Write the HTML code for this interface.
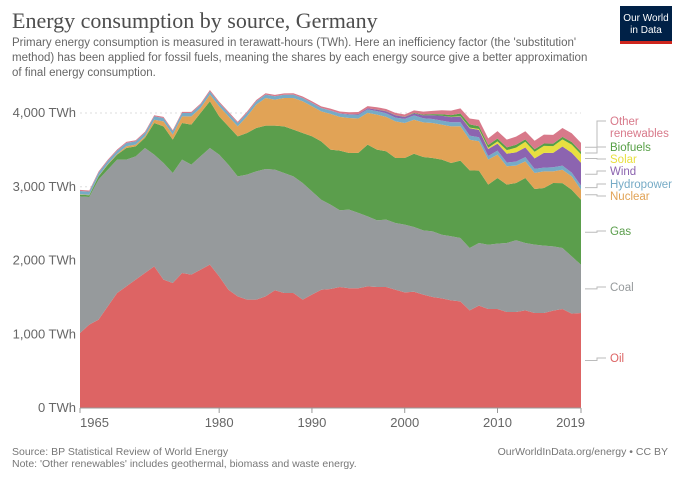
<!DOCTYPE html>
<html><head><meta charset="utf-8">
<style>
body{margin:0;background:#fff;font-family:"Liberation Sans",sans-serif;}
#wrap{position:relative;width:680px;height:480px;overflow:hidden;}
svg text{font-family:"Liberation Sans",sans-serif;}
</style></head>
<body>
<div id="wrap">
<svg id="chart" width="680" height="480">
<text x="12" y="28" font-family="Liberation Serif" font-size="22" fill="#4d4d4d" style="font-family:'Liberation Serif',serif">Energy consumption by source, Germany</text>
<g fill="#666" font-size="11.5">
<text x="12" y="46">Primary energy consumption is measured in terawatt-hours (TWh). Here an inefficiency factor (the 'substitution'</text>
<text x="12" y="61">method) has been applied for fossil fuels, meaning the shares by each energy source give a better approximation</text>
<text x="12" y="76">of final energy consumption.</text>
</g>
<g>
<rect x="620" y="6" width="52" height="38" fill="#002147"/>
<rect x="620" y="41" width="52" height="3" fill="#ce261e"/>
<text x="646" y="21" font-size="10" fill="#fff" text-anchor="middle">Our World</text>
<text x="646" y="33" font-size="10" fill="#fff" text-anchor="middle">in Data</text>
</g>
<g id="grid"></g>
<g id="areas"></g>
<g id="axes"></g>
<g id="legend"></g>
<text x="12" y="455" font-size="10.5" fill="#777">Source: BP Statistical Review of World Energy</text>
<text x="12" y="467" font-size="10.5" fill="#777">Note: 'Other renewables' includes geothermal, biomass and waste energy.</text>
<text x="668" y="455" font-size="10.5" fill="#777" text-anchor="end">OurWorldInData.org/energy • CC BY</text>
</svg>
</div>
<script>
const years=[];for(let y=1965;y<=2019;y++)years.push(y);
const oil=[1017,1130,1198,1379,1559,1650,1740,1831,1921,1740,1695,1831,1808,1876,1944,1785,1604,1514,1469,1469,1514,1596,1559,1559,1469,1537,1604,1614,1641,1623,1623,1650,1641,1641,1604,1568,1577,1537,1505,1487,1460,1446,1324,1388,1342,1342,1302,1302,1324,1288,1288,1320,1342,1279,1288];
const coal=[1853,1731,1898,1853,1808,1718,1672,1695,1514,1582,1492,1537,1492,1537,1582,1650,1695,1627,1695,1740,1727,1636,1627,1582,1582,1401,1220,1144,1040,1067,1022,949,904,913,904,918,877,872,890,863,868,859,845,850,872,886,936,972,913,927,913,872,827,777,655];
const gas=[23,23,45,68,68,158,136,136,429,497,452,497,542,588,633,520,520,542,565,588,588,597,633,633,678,746,791,746,809,768,814,972,958,927,881,904,994,994,994,1017,994,1049,1053,981,814,890,791,777,881,755,782,859,881,904,881];
const nuclear=[5,5,5,8,10,23,23,23,45,68,68,90,113,68,90,136,136,136,226,317,375,353,384,430,430,407,407,484,457,475,466,430,475,466,497,475,461,470,475,475,497,466,416,398,339,317,249,235,226,217,226,158,181,181,136];
const hydro=[45,45,45,45,45,45,45,45,45,45,45,45,45,45,45,45,45,45,45,45,45,45,45,45,45,45,45,45,45,45,48,48,48,50,52,55,58,55,55,55,55,55,55,55,50,55,50,55,58,55,50,55,55,50,55];
const wind=[0,0,0,0,0,0,0,0,0,0,0,0,0,0,0,0,0,0,0,0,0,0,0,0,0,1,1,2,4,7,12,15,20,25,30,25,28,40,50,65,70,78,100,100,95,95,120,125,130,142,200,195,260,270,310];
const solar=[0,0,0,0,0,0,0,0,0,0,0,0,0,0,0,0,0,0,0,0,0,0,0,0,0,0,0,0,0,0,0,0,0,0,0,0,0,0,0,1,3,5,8,11,16,30,48,65,78,90,95,92,97,110,115];
const biofuels=[0,0,0,0,0,0,0,0,0,0,0,0,0,0,0,0,0,0,0,0,0,0,0,0,0,0,0,0,0,0,1,1,2,3,4,5,6,10,15,20,25,35,45,38,38,40,38,38,33,35,33,33,33,35,35];
const other=[15,15,15,15,15,15,15,15,15,15,15,15,15,15,18,18,18,18,18,18,18,18,18,18,20,22,22,24,25,26,28,28,30,30,30,30,35,40,45,55,60,70,80,85,90,100,105,110,110,115,120,120,120,120,120];
const seriesNames=["Oil","Coal","Gas","Nuclear","Hydropower","Wind","Solar","Biofuels","Other renewables"];
const seriesData=[oil,coal,gas,nuclear,hydro,wind,solar,biofuels,other];
const colors=["#dd6464","#969a9c","#5b9e4c","#e1a356","#76abc6","#8c64b0","#e8df3f","#57a046","#d8798a"];
const yTicks=[0,1000,2000,3000,4000];
const yTickLabels=["0 TWh","1,000 TWh","2,000 TWh","3,000 TWh","4,000 TWh"];
const xTicks=[1965,1980,1990,2000,2010,2019];

const NS="http://www.w3.org/2000/svg";
const X0=80,X1=581,Y0=408,Y4=113;
const xs=y=>X0+(y-1965)*(X1-X0)/(2019-1965);
const ys=v=>Y0-v*(Y0-Y4)/4000;
function mk(tag,attrs,parent){const e=document.createElementNS(NS,tag);for(const k in attrs)e.setAttribute(k,attrs[k]);parent.appendChild(e);return e;}

const grid=document.getElementById('grid'),axes=document.getElementById('axes'),areas=document.getElementById('areas'),legend=document.getElementById('legend');
yTicks.forEach((t,i)=>{
  if(t>0){const l=mk('line',{x1:X0,x2:X1,y1:ys(t),y2:ys(t),stroke:'#ddd','stroke-dasharray':'2,3'},grid);
  
  }
  const tx=mk('text',{x:76,y:ys(t)+4,'text-anchor':'end','font-size':13,fill:'#666'},axes);
  tx.textContent=yTickLabels[i];
  
  
});
// stacked areas
const cum=years.map(()=>0);
seriesData.forEach((s,si)=>{
  const low=cum.slice();
  years.forEach((y,i)=>cum[i]+=s[i]);
  let d='M'+years.map((y,i)=>xs(y)+','+ys(cum[i])).join('L');
  for(let i=years.length-1;i>=0;i--)d+='L'+xs(years[i])+','+ys(low[i]);
  d+='Z';
  const p=mk('path',{d:d,fill:colors[si]},areas);
  
  
});
const base=mk('line',{x1:X0,x2:X1,y1:Y0,y2:Y0,stroke:'#999'},axes);


xTicks.forEach(t=>{
  const tk=mk('line',{x1:xs(t),x2:xs(t),y1:Y0,y2:Y0+5,stroke:'#999'},axes);
  
  
  const anchor=t===1965?'start':(t===2019?'end':'middle');
  const tx=mk('text',{x:t===1965?X0:(t===2019?X1+4:xs(t)),y:Y0+19,'text-anchor':anchor,'font-size':13,fill:'#666'},axes);
  tx.textContent=t;
  
  
});
// legend labels
const legendItems=[["Other",125,8],["renewables",137,-1],["Biofuels",151,7],["Solar",163,6],["Wind",175,5],["Hydropower",188,4],["Nuclear",200,3],["Gas",235,2],["Coal",291,1],["Oil",362,0]];
const lastTop=[];{let c=0;seriesData.forEach(s=>{const v=s[s.length-1];lastTop.push(c+v/2);c+=v;});}
legendItems.forEach(([txt,y,si])=>{
  const col=si<0?colors[8]:colors[si];
  if(si>=0){
    const yy=ys(lastTop[si]);
    const ln=mk('polyline',{points:`${X1+4},${yy} ${597},${yy} ${597},${y-4} ${606},${y-4}`,fill:'none',stroke:'#bbb','stroke-width':1},legend);
    
    
  }
  const t=mk('text',{x:610,y:y,'font-size':11.5,fill:col},legend);
  t.textContent=txt;
  
  
});
</script>
</body></html>
